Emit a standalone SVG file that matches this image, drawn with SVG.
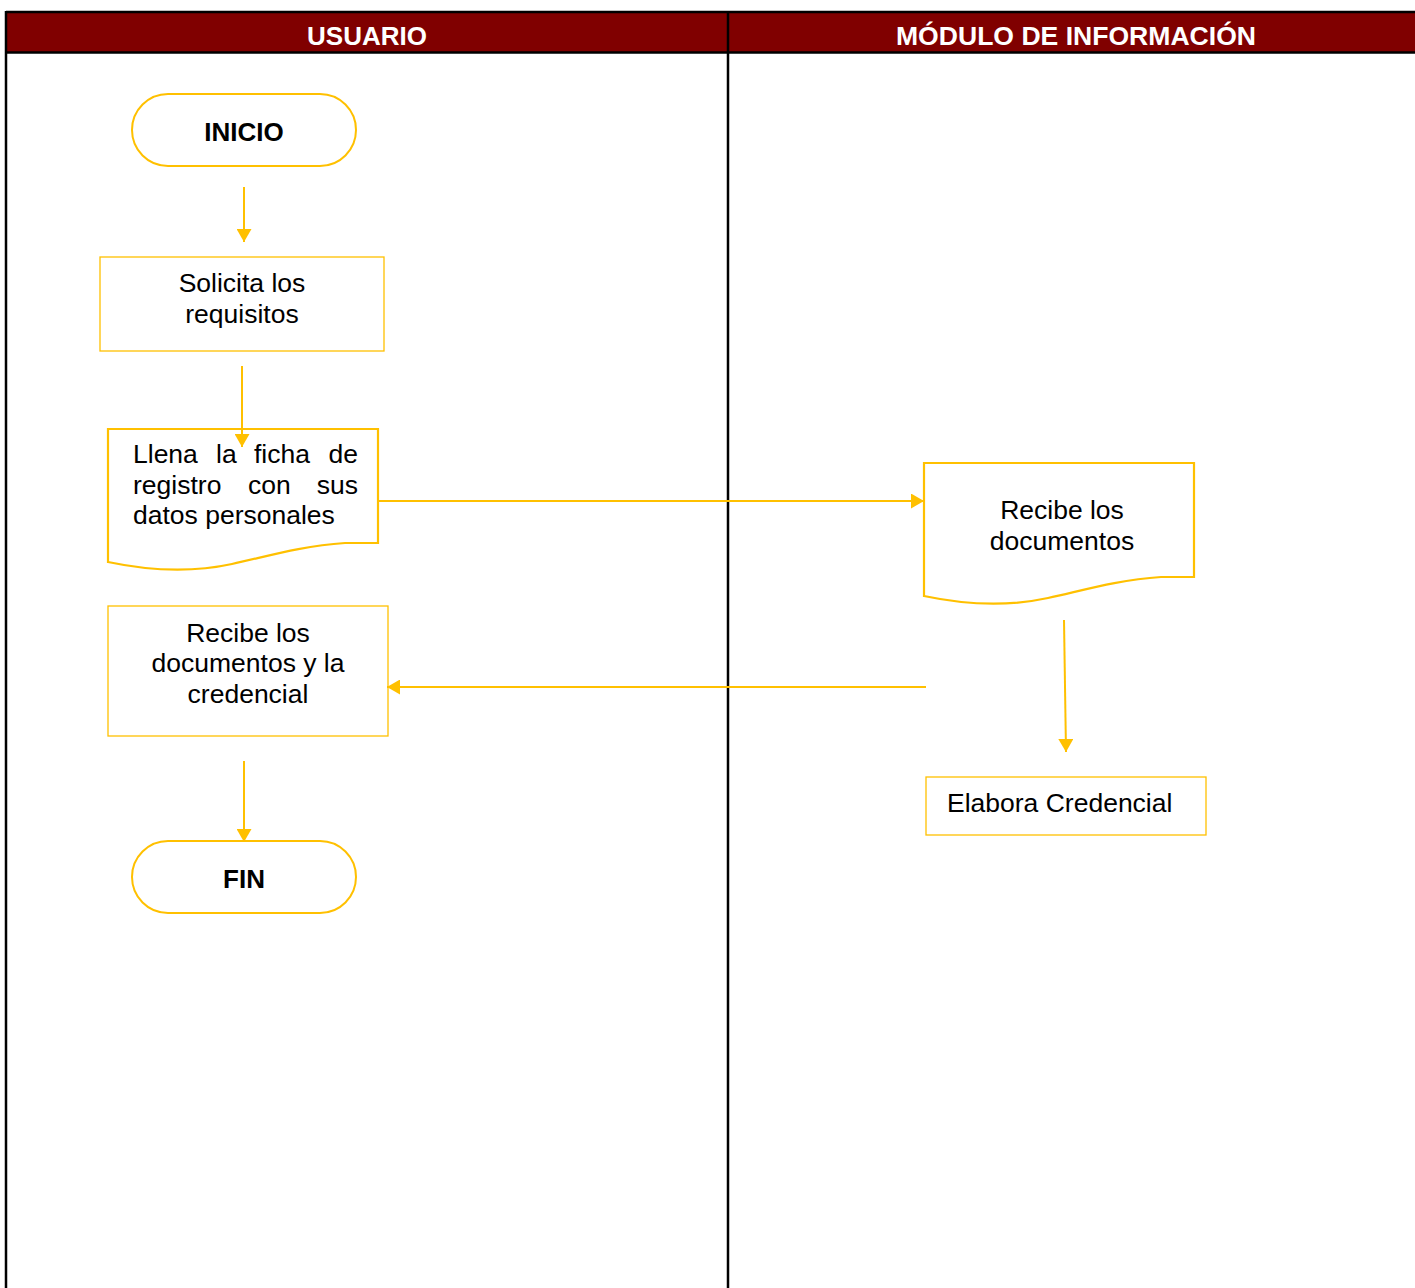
<svg xmlns="http://www.w3.org/2000/svg" width="1415" height="1288" viewBox="0 0 1415 1288">
<style>
.lane{stroke:#000;stroke-width:2.5;fill:none}
.hdr{font-family:"Liberation Sans",Arial,sans-serif;font-weight:bold;font-size:26px;fill:#fff}
.term{fill:#fff;stroke:#FFC000;stroke-width:2}
.box{fill:#fff;stroke:#FFC000;stroke-width:1.3}
.doc{fill:#fff;stroke:#FFC000;stroke-width:2.2}
.t{font-family:"Liberation Sans",Arial,sans-serif;font-size:26.5px;fill:#000}
.tb{font-family:"Liberation Sans",Arial,sans-serif;font-size:26px;font-weight:bold;fill:#000}
.c{stroke:#FFC000;stroke-width:2;fill:none;marker-end:url(#ah)}
</style>
<defs>
<marker id="ah" viewBox="0 0 13 15" refX="13" refY="7.5" markerWidth="13" markerHeight="15" markerUnits="userSpaceOnUse" orient="auto">
<path d="M0,0 L13,7.5 L0,15 Z" fill="#FFC000"/>
</marker>
</defs>
<rect width="1415" height="1288" fill="#fff"/>
<g id="lanes">
<rect x="6" y="12" width="1412" height="40" fill="#800000"/>
<line class="lane" x1="6" y1="12" x2="1415" y2="12"/>
<line class="lane" x1="6" y1="52.5" x2="1415" y2="52.5"/>
<line class="lane" x1="6" y1="11" x2="6" y2="1288"/>
<line class="lane" x1="728" y1="11" x2="728" y2="1288"/>
<text class="hdr" x="367" y="45" text-anchor="middle">USUARIO</text>
<text class="hdr" x="1076" y="45" text-anchor="middle" textLength="360" lengthAdjust="spacingAndGlyphs">MÓDULO DE INFORMACIÓN</text>
</g>
<g id="inicio">
<rect class="term" x="132" y="94" width="224" height="72" rx="36"/>
<text class="tb" x="244" y="141" text-anchor="middle">INICIO</text>
</g>
<g id="solicita">
<rect class="box" x="100" y="257" width="284" height="94"/>
<text class="t" x="242" y="292" text-anchor="middle">Solicita los</text>
<text class="t" x="242" y="323" text-anchor="middle">requisitos</text>
</g>
<g id="llena">
<path class="doc" d="M108,429 H378 V543 H345 C300,546 265,557 232,564 C200,571 160,573 108,562 Z"/>
<text class="t" y="463"><tspan x="133">Llena</tspan><tspan x="216">la</tspan><tspan x="254">ficha</tspan><tspan x="358" text-anchor="end">de</tspan></text>
<text class="t" y="494"><tspan x="133">registro</tspan><tspan x="248">con</tspan><tspan x="358" text-anchor="end">sus</tspan></text>
<text class="t" x="133" y="524">datos personales</text>
</g>
<g id="recibe-docs">
<path class="doc" d="M924,463 H1194 V577 H1161 C1116,580 1081,591 1048,598 C1016,605 976,607 924,596 Z"/>
<text class="t" x="1062" y="519" text-anchor="middle">Recibe los</text>
<text class="t" x="1062" y="550" text-anchor="middle">documentos</text>
</g>
<g id="elabora">
<rect class="box" x="926" y="777" width="280" height="58"/>
<text class="t" x="947" y="812">Elabora Credencial</text>
</g>
<g id="recibe-cred">
<rect class="box" x="108" y="606" width="280" height="130"/>
<text class="t" x="248" y="642" text-anchor="middle">Recibe los</text>
<text class="t" x="248" y="672" text-anchor="middle">documentos y la</text>
<text class="t" x="248" y="703" text-anchor="middle">credencial</text>
</g>
<g id="fin">
<rect class="term" x="132" y="841" width="224" height="72" rx="36"/>
<text class="tb" x="244" y="888" text-anchor="middle">FIN</text>
</g>
<g id="connectors">
<line class="c" x1="244" y1="187" x2="244" y2="242"/>
<line class="c" x1="242" y1="366" x2="242" y2="447"/>
<line class="c" x1="378" y1="501" x2="924" y2="501"/>
<line class="c" x1="1064" y1="620" x2="1066" y2="752"/>
<line class="c" x1="926" y1="687" x2="387" y2="687"/>
<line class="c" x1="244" y1="761" x2="244" y2="842"/>
</g>
</svg>
